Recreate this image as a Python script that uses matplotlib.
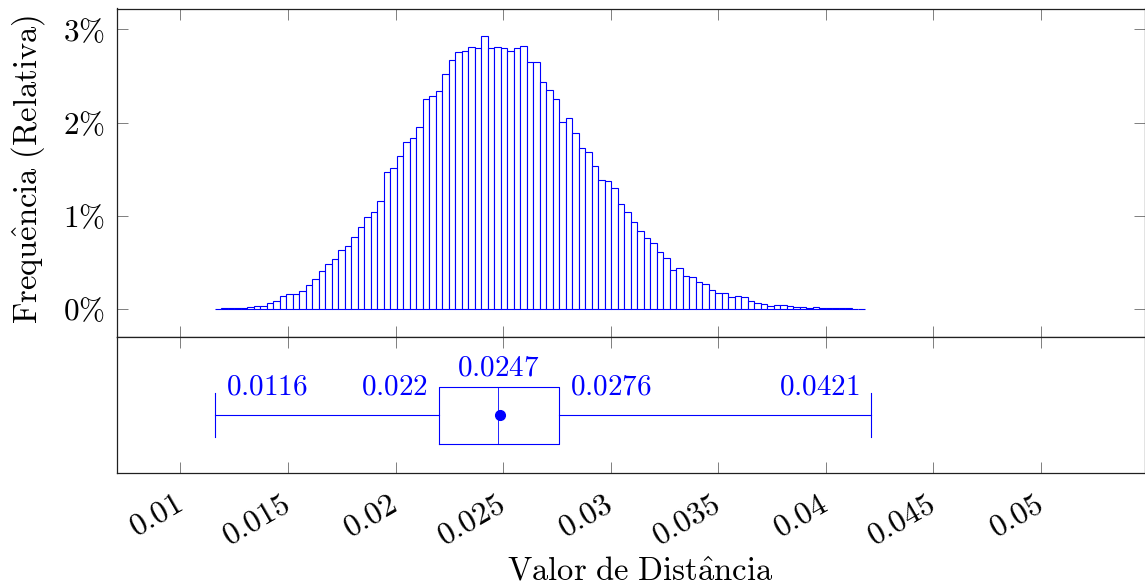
import numpy as np
import matplotlib
matplotlib.use('Agg')
import matplotlib.pyplot as plt

plt.rcParams['mathtext.fontset'] = 'cm'
plt.rcParams['font.family'] = 'serif'
plt.rcParams['font.serif'] = ['cmr10', 'DejaVu Serif']
plt.rcParams['axes.formatter.use_mathtext'] = True

# Histograma: frequência relativa (%) de cada uma das 100 classes
hist_start = 0.01159
hist_end = 0.04181
freq_pct = [
    0.003, 0.007, 0.007, 0.008, 0.014, 0.018, 0.036, 0.029, 0.061, 0.086,
    0.136, 0.165, 0.157, 0.190, 0.257, 0.318, 0.410, 0.480, 0.536, 0.632,
    0.675, 0.772, 0.882, 0.986, 1.040, 1.160, 1.475, 1.514, 1.640, 1.790,
    1.840, 1.957, 2.257, 2.290, 2.336, 2.520, 2.675, 2.755, 2.765, 2.808,
    2.797, 2.930, 2.800, 2.815, 2.797, 2.768, 2.797, 2.825, 2.654, 2.654,
    2.436, 2.347, 2.254, 2.004, 2.047, 1.886, 1.732, 1.682, 1.533, 1.389,
    1.372, 1.297, 1.132, 1.040, 0.939, 0.836, 0.761, 0.707, 0.617, 0.543,
    0.421, 0.440, 0.354, 0.346, 0.289, 0.268, 0.204, 0.175, 0.168, 0.132,
    0.136, 0.125, 0.086, 0.060, 0.054, 0.036, 0.043, 0.040, 0.029, 0.018,
    0.018, 0.011, 0.018, 0.011, 0.007, 0.007, 0.007, 0.007, 0.004, 0.004,
]

# Resumo do boxplot
box_min = 0.0116
box_q1 = 0.0220
box_median = 0.02475
box_q3 = 0.0276
box_max = 0.0421
box_mean = 0.02487
box_labels = ['0.0116', '0.022', '0.0247', '0.0276', '0.0421']

x_ticks = [0.01, 0.015, 0.02, 0.025, 0.03, 0.035, 0.04, 0.045, 0.05]
x_tick_labels = ['0.01', '0.015', '0.02', '0.025', '0.03', '0.035', '0.04', '0.045', '0.05']
y_ticks = [0, 1, 2, 3]
y_tick_labels = ['0\\%', '1\\%', '2\\%', '3\\%']

BLUE = '#0000ff'
TICK_COLOR = '#6a6a6a'

fig = plt.figure(figsize=(11.45, 5.87), dpi=100)
left = 117 / 1145
width = 1027.5 / 1145
ax1 = fig.add_axes([left, 1 - 337 / 587, width, (337 - 8.5) / 587])
ax2 = fig.add_axes([left, 1 - 473 / 587, width, 136 / 587], sharex=ax1)

# histograma
edges = np.linspace(hist_start, hist_end, len(freq_pct) + 1)
ax1.bar(edges[:-1], freq_pct, width=np.diff(edges), align='edge',
        facecolor='white', edgecolor=BLUE, linewidth=0.8)
ax1.set_xlim(0.00705, 0.05481)
ax1.set_ylim(-0.3, 3.225)
ax1.set_yticks(y_ticks, ['$' + s + '$' for s in y_tick_labels], fontsize=22.5)
ax1.tick_params(axis='both', direction='in', length=8, width=0.6, color=TICK_COLOR,
                top=True, right=True, bottom=True, labelbottom=False, pad=9)

# boxplot
stats = [dict(med=box_median, q1=box_q1, q3=box_q3, whislo=box_min, whishi=box_max,
              mean=box_mean, fliers=[])]
ax2.bxp(stats, positions=[0.426], widths=0.42, orientation='horizontal', capwidths=0.32,
        showmeans=True, showfliers=False,
        boxprops=dict(color=BLUE, linewidth=0.8),
        whiskerprops=dict(color=BLUE, linewidth=0.8),
        capprops=dict(color=BLUE, linewidth=0.8),
        medianprops=dict(color=BLUE, linewidth=0.6),
        meanprops=dict(marker='o', markerfacecolor=BLUE, markeredgecolor=BLUE, markersize=7))
ax2.set_ylim(0, 1)
ax2.set_yticks([])

label_specs = [
    (box_min, 8, 0.632, 'left'),
    (box_q1, -8, 0.632, 'right'),
    (box_median, 0, 0.772, 'center'),
    (box_q3, 8, 0.632, 'left'),
    (box_max, -8, 0.632, 'right'),
]
for (xv, dx, yv, ha), txt in zip(label_specs, box_labels):
    ax2.annotate('$\\mathrm{' + txt + '}$', xy=(xv, yv), xycoords=('data', 'axes fraction'),
                 xytext=(dx, 0), textcoords='offset points', ha=ha, va='center',
                 color=BLUE, fontsize=21)

ax2.set_xticks(x_ticks, ['$\\mathrm{' + s + '}$' for s in x_tick_labels], fontsize=23,
               rotation=30, ha='right', va='center', rotation_mode='anchor')
ax2.tick_params(axis='x', direction='in', length=8, width=0.6, color=TICK_COLOR,
                top=True, bottom=True, pad=21)
ax1.set_xlim(0.00705, 0.05481)

for ax in (ax1, ax2):
    for sp in ax.spines.values():
        sp.set_linewidth(0.9)
        sp.set_color('#202020')

fig.text(28 / 1145, 1 - 169 / 587, '$\\mathrm{Frequ\\hat{e}ncia\\ (Relativa)}$',
         rotation=90, ha='center', va='center', fontsize=23.5)
fig.text(640 / 1145, 1 - 572 / 587, '$\\mathrm{Valor\\ de\\ Dist\\hat{a}ncia}$',
         ha='center', va='center', fontsize=23.5)

fig.savefig('out.png', dpi=100)
